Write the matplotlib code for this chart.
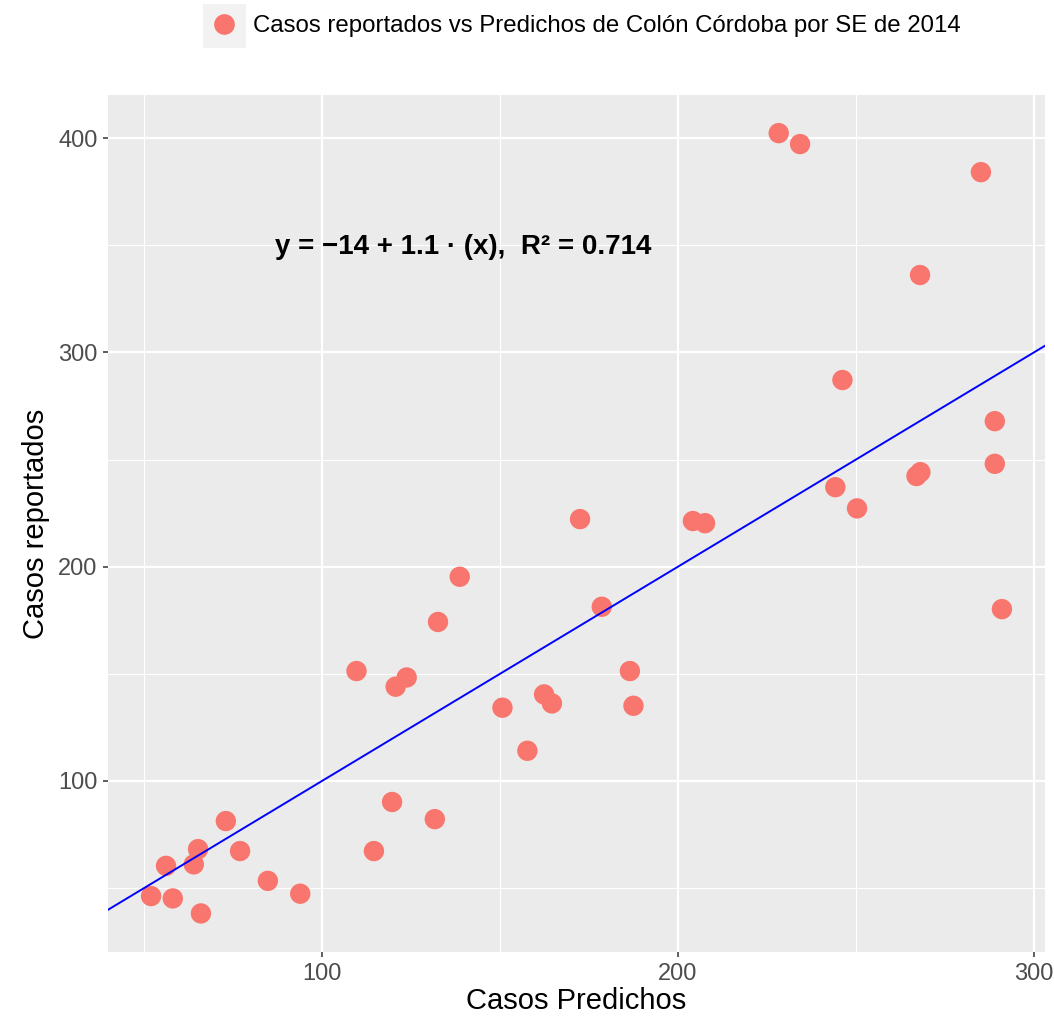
import numpy as np
import matplotlib
matplotlib.use("Agg")
import matplotlib.pyplot as plt
from matplotlib.patches import Rectangle
from matplotlib.lines import Line2D

plt.rcParams['font.family'] = ['Liberation Sans', 'DejaVu Sans']

# casos predichos (eje x) y reportados (eje y), SE 2014
predichos = [52.0, 56.2, 58.1, 64.0, 65.2, 66.0, 73.0, 77.0, 84.8, 93.9,
             109.7, 114.6, 119.7, 120.7, 123.8, 131.7, 132.6, 138.7, 150.7, 157.7,
             162.4, 164.6, 172.5, 178.6, 186.5, 187.5, 204.2, 207.6, 228.3, 234.3,
             244.2, 246.2, 250.3, 267.0, 268.1, 268.0, 285.1, 289.0, 289.0, 291.0]
reportados = [46.3, 60.4, 45.2, 61.1, 68.2, 38.2, 81.3, 67.3, 53.4, 47.4,
              151.3, 67.3, 90.2, 144.0, 148.3, 82.2, 174.2, 195.3, 134.2, 114.1,
              140.4, 136.2, 222.2, 181.3, 151.3, 135.1, 221.3, 220.3, 402.3, 397.2,
              237.1, 287.1, 227.2, 242.3, 244.1, 336.1, 384.1, 267.9, 248.0, 180.2]

etiqueta = "Casos reportados vs Predichos de Colón Córdoba por SE de 2014"
ecuacion = "y = −14 + 1.1 · (x),  R² = 0.714"

fig = plt.figure(figsize=(10.54, 10.23), dpi=100)
ax = fig.add_axes([108/1054, 1-952/1023, (1045-108)/1054, (952-95)/1023])
ax.set_facecolor('#EBEBEB')
for s in ax.spines.values():
    s.set_visible(False)

ax.set_xlim(39.9, 303.1)
ax.set_ylim(20.2, 420.1)
ax.set_xticks([100, 200, 300])
ax.set_yticks([100, 200, 300, 400])
ax.set_xticks([50, 150, 250], minor=True)
ax.set_yticks([50, 150, 250, 350], minor=True)
ax.grid(which='major', color='white', lw=1.6)
ax.grid(which='minor', color='white', lw=0.8)
ax.set_axisbelow(True)
ax.tick_params(which='major', colors='#333333', labelcolor='#4D4D4D',
               labelsize=17, length=3.6, width=1.1, pad=4)
ax.tick_params(which='minor', length=0)

ax.scatter(predichos, reportados, s=215, color='#F8766D', edgecolors='none', zorder=3)
ax.axline((0, 0), slope=1, color='blue', lw=1.4, zorder=4)

ax.text(139.6, 349, ecuacion, fontsize=20, fontweight='bold', ha='center', va='center')

ax.set_xlabel("Casos Predichos", fontsize=21, labelpad=2)
ax.set_ylabel("Casos reportados", fontsize=21, labelpad=6)

# leyenda superior con fondo gris en la clave
fig.patches.append(Rectangle((203/1054, 1-48/1023), 43/1054, 44/1023,
                             transform=fig.transFigure, facecolor='#F2F2F2',
                             edgecolor='none'))
h = Line2D([], [], marker='o', ls='none', markersize=14.9, color='#F8766D',
           markeredgecolor='none')
fig.legend([h], [etiqueta], loc='center left', bbox_to_anchor=(212.5/1054, 1-26/1023),
           frameon=False, fontsize=17.3, handletextpad=0.72, borderpad=0,
           handlelength=0.98, borderaxespad=0)

fig.savefig("out.png", dpi=100)
